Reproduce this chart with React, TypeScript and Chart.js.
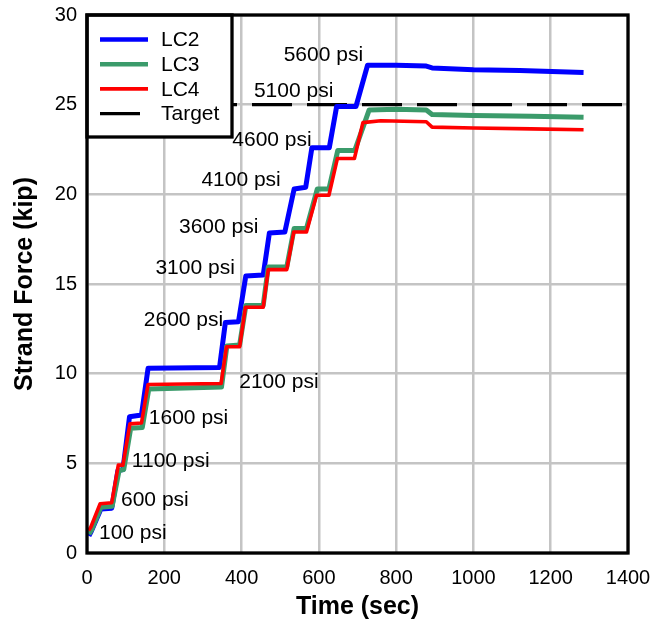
import React, { useEffect, useRef } from "react";
import { Chart, registerables } from "chart.js";

Chart.register(...registerables);

// ---- Data (time in sec, force in kip) ----
const lc2Time = [5, 12, 36, 64, 80, 93, 110, 141, 158, 343, 358, 392, 411, 456, 472, 512, 536, 566, 582, 627, 646, 696, 726, 800, 878, 893, 1000, 1120, 1285];
const lc2Force = [0.95, 1.25, 2.45, 2.5, 4.6, 4.65, 7.6, 7.7, 10.3, 10.35, 12.85, 12.9, 15.45, 15.5, 17.85, 17.9, 20.3, 20.4, 22.6, 22.6, 24.9, 24.9, 27.2, 27.2, 27.15, 27.05, 26.95, 26.9, 26.8];

const lc3Time = [5, 12, 36, 65, 83, 95, 113, 143, 160, 348, 362, 395, 411, 456, 469, 517, 536, 568, 596, 626, 649, 693, 730, 800, 878, 893, 1000, 1150, 1285];
const lc3Force = [1.05, 1.3, 2.55, 2.6, 4.6, 4.65, 6.95, 7.0, 9.15, 9.25, 11.55, 11.6, 13.8, 13.8, 15.95, 15.95, 18.1, 18.1, 20.3, 20.3, 22.45, 22.45, 24.7, 24.75, 24.7, 24.45, 24.4, 24.35, 24.3];

const lc4Time = [4, 10, 34, 64, 81, 93, 111, 141, 158, 347, 361, 395, 410, 456, 469, 517, 535, 568, 594, 626, 648, 692, 714, 760, 878, 893, 1000, 1150, 1285];
const lc4Force = [1.25, 1.45, 2.75, 2.8, 4.9, 4.9, 7.2, 7.25, 9.4, 9.45, 11.5, 11.5, 13.7, 13.7, 15.8, 15.8, 17.9, 17.9, 19.95, 19.95, 22.0, 22.0, 24.0, 24.1, 24.05, 23.75, 23.7, 23.65, 23.6];

const targetTime = [0, 1400];
const targetForce = [25, 25];

const seriesNames = ["LC2", "LC3", "LC4", "Target"];

const psiLabels = ["100 psi", "600 psi", "1100 psi", "1600 psi", "2100 psi", "2600 psi", "3100 psi", "3600 psi", "4100 psi", "4600 psi", "5100 psi", "5600 psi"];
const psiLabelTime = [31, 88, 116, 160, 394, 147, 177, 238, 296, 376, 432, 509];
const psiLabelForce = [1.1, 2.95, 5.14, 7.52, 9.54, 12.98, 15.88, 18.18, 20.78, 23.0, 25.76, 27.74];

const xMin = 0, xMax = 1400, xStep = 200;
const yMin = 0, yMax = 30, yStep = 5;

const FONT = '"Liberation Sans", Arial, Helvetica, sans-serif';

function pts(t: number[], f: number[]) {
  return t.map((v, i) => ({ x: v, y: f[i] }));
}

const overlayPlugin = {
  id: "overlay",
  afterDatasetsDraw(chart: any) {
    const { ctx, chartArea: ca, scales } = chart;
    const xs = scales.x;
    const ys = scales.y;
    ctx.save();

    // legend box
    const lx = ca.left, ly = ca.top, lw = 145, lh = 122;
    ctx.fillStyle = "#ffffff";
    ctx.fillRect(lx, ly, lw, lh);
    ctx.lineWidth = 3.3;
    ctx.strokeStyle = "#000";
    ctx.strokeRect(lx, ly, lw, lh);

    const ds = chart.data.datasets;
    ctx.font = "21px " + FONT;
    ctx.textAlign = "left";
    ctx.textBaseline = "middle";
    for (let i = 0; i < ds.length; i++) {
      const d = ds[i];
      const yy = ly + 24.5 + i * 24.7;
      ctx.beginPath();
      ctx.setLineDash([]);
      ctx.lineWidth = i === 3 ? 3.3 : Math.min(d.borderWidth, 4.5);
      ctx.strokeStyle = d.borderColor;
      ctx.moveTo(lx + 13, yy);
      ctx.lineTo(lx + (i === 3 ? 53 : 61), yy);
      ctx.stroke();
      ctx.fillStyle = "#000";
      ctx.fillText(d.label, lx + 74, yy + 1);
    }

    // psi annotations
    ctx.fillStyle = "#000";
    ctx.font = "21px " + FONT;
    psiLabels.forEach((s, i) => {
      ctx.fillText(s, xs.getPixelForValue(psiLabelTime[i]), ys.getPixelForValue(psiLabelForce[i]));
    });

    // frame
    ctx.setLineDash([]);
    ctx.lineWidth = 3.3;
    ctx.strokeStyle = "#000";
    ctx.strokeRect(ca.left, ca.top, ca.right - ca.left, ca.bottom - ca.top);
    ctx.restore();
  },
};

export default function App() {
  const canvasRef = useRef<HTMLCanvasElement | null>(null);

  useEffect(() => {
    if (!canvasRef.current) return;
    const chart = new Chart(canvasRef.current, {
      type: "line",
      data: {
        datasets: [
          {
            label: seriesNames[0],
            data: pts(lc2Time, lc2Force),
            borderColor: "#0000ff",
            borderWidth: 5,
            pointRadius: 0,
            order: 2,
          },
          {
            label: seriesNames[1],
            data: pts(lc3Time, lc3Force),
            borderColor: "#3b9b6b",
            borderWidth: 5,
            pointRadius: 0,
            order: 1,
          },
          {
            label: seriesNames[2],
            data: pts(lc4Time, lc4Force),
            borderColor: "#ff0000",
            borderWidth: 3.6,
            pointRadius: 0,
            order: 0,
          },
          {
            label: seriesNames[3],
            data: pts(targetTime, targetForce),
            borderColor: "#000000",
            borderWidth: 3.3,
            borderDash: [40, 15],
            pointRadius: 0,
            order: 3,
          },
        ],
      },
      options: {
        responsive: false,
        animation: false,
        events: [],
        layout: { padding: { top: 15, right: 27, left: 0, bottom: 0 } },
        plugins: {
          legend: { display: false },
          tooltip: { enabled: false },
        },
        elements: { line: { tension: 0, borderCapStyle: "butt", borderJoinStyle: "round" } },
        scales: {
          x: {
            type: "linear",
            min: xMin,
            max: xMax,
            ticks: {
              stepSize: xStep,
              padding: 13,
              color: "#000",
              font: { size: 20, family: FONT },
              maxRotation: 0,
              callback: (v: any) => String(v),
            },
            grid: { color: "#c4c4c4", lineWidth: 2.5, drawTicks: false },
            border: { display: false },
            title: {
              display: true,
              text: "Time (sec)",
              color: "#000",
              font: { size: 25, weight: "bold", family: FONT },
              padding: { top: 0, bottom: 0 },
            },
            afterFit: (scale: any) => {
              scale.height = 69;
              scale.paddingLeft = 0;
              scale.paddingRight = 0;
            },
          },
          y: {
            type: "linear",
            min: yMin,
            max: yMax,
            ticks: {
              stepSize: yStep,
              padding: 10,
              color: "#000",
              font: { size: 20, family: FONT },
              callback: (v: any) => String(v),
            },
            grid: { color: "#c4c4c4", lineWidth: 2.5, drawTicks: false },
            border: { display: false },
            title: {
              display: true,
              text: "Strand Force (kip)",
              color: "#000",
              font: { size: 25, weight: "bold", family: FONT },
              padding: { top: 10, bottom: 0 },
            },
            afterFit: (scale: any) => {
              scale.width = 87;
              scale.paddingTop = 0;
              scale.paddingBottom = 0;
            },
          },
        },
      },
      plugins: [overlayPlugin],
    });
    return () => chart.destroy();
  }, []);

  return (
    <div style={{ position: "absolute", left: 0, top: 0, width: 655, height: 622, background: "#fff" }}>
      <canvas ref={canvasRef} width={655} height={622} style={{ display: "block", width: 655, height: 622 }} />
    </div>
  );
}
